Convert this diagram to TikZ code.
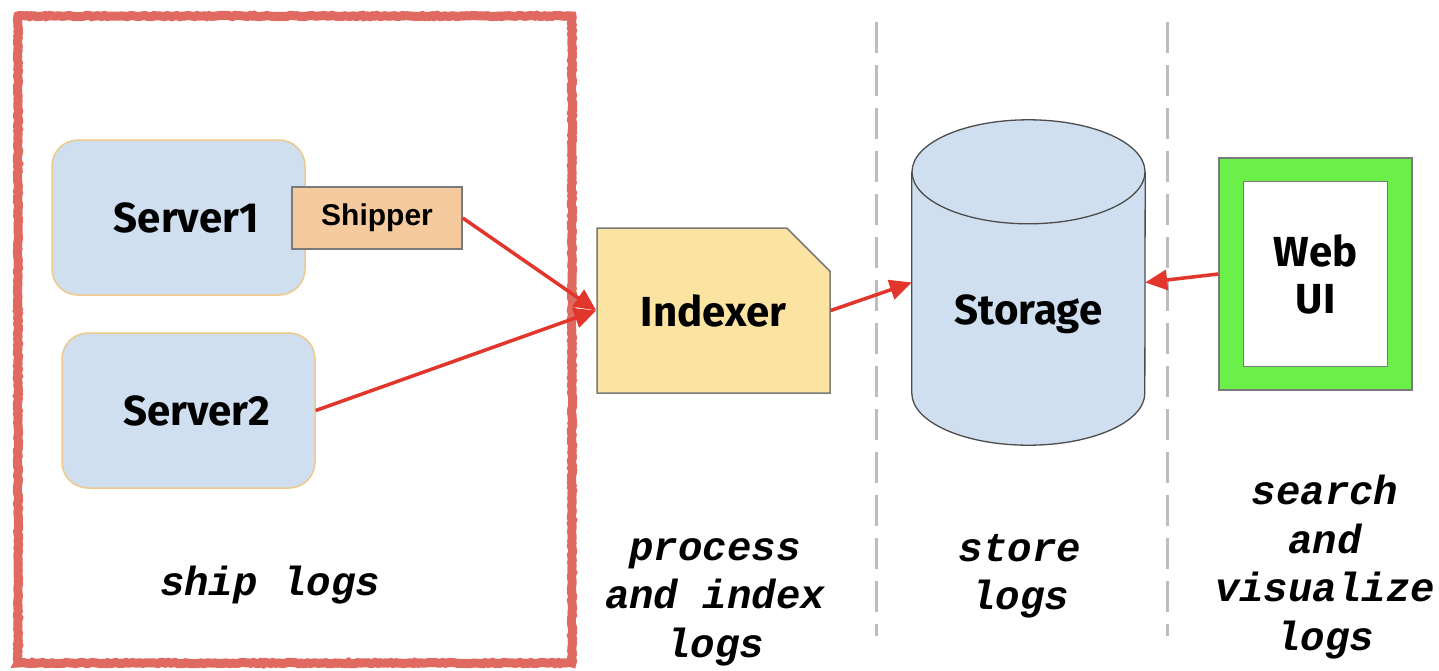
\documentclass[tikz,border=0pt]{standalone}
\usepackage{fontspec}
\usetikzlibrary{shapes.misc,arrows.meta,decorations.pathmorphing}
\newfontfamily\boxfont{Fira Sans}
\newfontfamily\shipfont{Liberation Sans}
\newfontfamily\notefont{Liberation Mono}

\definecolor{serverfill}{HTML}{CFDFF0}
\definecolor{serverline}{HTML}{EEC98C}
\definecolor{shipfill}{HTML}{F6CA9F}
\definecolor{boxline}{HTML}{7A7A7A}
\definecolor{idxfill}{HTML}{FBE4A2}
\definecolor{webgreen}{HTML}{6BF04A}
\definecolor{framered}{HTML}{E06A62}
\definecolor{arrowred}{HTML}{E2352B}
\definecolor{dashgray}{HTML}{BDBDBD}

\tikzset{
  bigtext/.style={font=\boxfont\bfseries\fontsize{42}{47}\selectfont},
  server/.style={bigtext, draw=serverline, line width=1.5pt, fill=serverfill,
    rounded corners=26pt, minimum width=253pt, minimum height=155pt},
  shipbox/.style={draw=boxline, line width=1.5pt, fill=shipfill,
    minimum width=170pt, minimum height=62pt,
    font=\shipfont\bfseries\fontsize{30}{34}\selectfont},
  idxbox/.style={bigtext, chamfered rectangle, chamfered rectangle corners=north east,
    chamfered rectangle xsep=27pt, chamfered rectangle ysep=27pt,
    draw=boxline, line width=1.5pt, fill=idxfill,
    minimum width=233pt, minimum height=165pt, inner sep=0pt},
  flow/.style={draw=arrowred, line width=3.5pt,
    -{Triangle[length=22pt,width=20pt]}},
  divider/.style={draw=dashgray, line width=3pt, dash pattern=on 31pt off 12pt},
  note/.style={font=\notefont\bfseries\itshape\fontsize{40.7}{48.5}\selectfont,
    align=center},
  phase/.style={draw=framered, line width=9pt,
    decorate, decoration={random steps, segment length=2.5pt, amplitude=0.7pt}},
  drum/.style={draw=black!70, line width=1.3pt}
}

\begin{document}
\begin{tikzpicture}[x=1pt,y=-1pt]
\useasboundingbox[fill=white] (0,0) rectangle (1439,670);

% stage separators
\coordinate (d1top) at (876,22);
\coordinate (d1bot) at (876,636);
\coordinate (d2top) at (1167,22);
\coordinate (d2bot) at (1167,636);
\draw[divider] (d1top) -- (d1bot);
\draw[divider] (d2top) -- (d2bot);

% shipping stage frame
\coordinate (fr1) at (18,16);
\coordinate (fr2) at (572,663);
\draw[phase] (fr1) rectangle (fr2);

% servers and shipper
\node[server] (s1) at (178.5,217.5) {\hspace*{16pt}Server1};
\node[server] (s2) at (188.5,410.5) {\hspace*{16pt}Server2};
\node[shipbox] (ship) at (377,218) {Shipper};

% indexer
\node[idxbox] (idx) at (713.5,310.5) {Indexer};

% storage cylinder (52pt is the half height of the end ellipses)
\node[minimum width=233pt, minimum height=325pt, inner sep=0pt] (store) at (1028.5,282.5) {};
\fill[serverfill] ([yshift=-52pt]store.north west) -- ([yshift=52pt]store.south west)
   arc[start angle=180, end angle=360, x radius=116.5pt, y radius=52pt]
   -- ([yshift=-52pt]store.north east)
   arc[start angle=0, end angle=180, x radius=116.5pt, y radius=52pt] -- cycle;
\draw[drum]
   ([yshift=-52pt]store.north west) -- ([yshift=52pt]store.south west)
   arc[start angle=180, end angle=360, x radius=116.5pt, y radius=52pt]
   -- ([yshift=-52pt]store.north east);
\draw[drum] ([yshift=-52pt]store.north)
   ellipse[x radius=116.5pt, y radius=52pt];
\node[bigtext] (storelabel) at (1028.5,314) {Storage};

% web ui
\node[draw=boxline, line width=1.5pt, fill=webgreen, minimum width=193pt,
      minimum height=232pt] (web) at (1315.5,274) {};
\node[bigtext, draw=boxline, line width=1.5pt, fill=white, minimum width=144pt,
      minimum height=185pt, align=center] (webin) at (web.center) {Web\\UI};

% data flow
\draw[flow] (ship.east) -- (idx.west);
\draw[flow] (s2.east) -- (idx.west);
\draw[flow] (idx.east) -- (store.west);
\draw[flow] (web.west) -- (store.east);

% stage captions
\node[note] (n1) at (270,585) {ship logs};
\node[note] (n2) at (715,602) {process\\and index\\logs};
\node[note] (n3) at (1020,576) {store\\logs};
\node[note] (n4) at (1325,567) {search\\and\\visualize\\logs};
\end{tikzpicture}
\end{document}
